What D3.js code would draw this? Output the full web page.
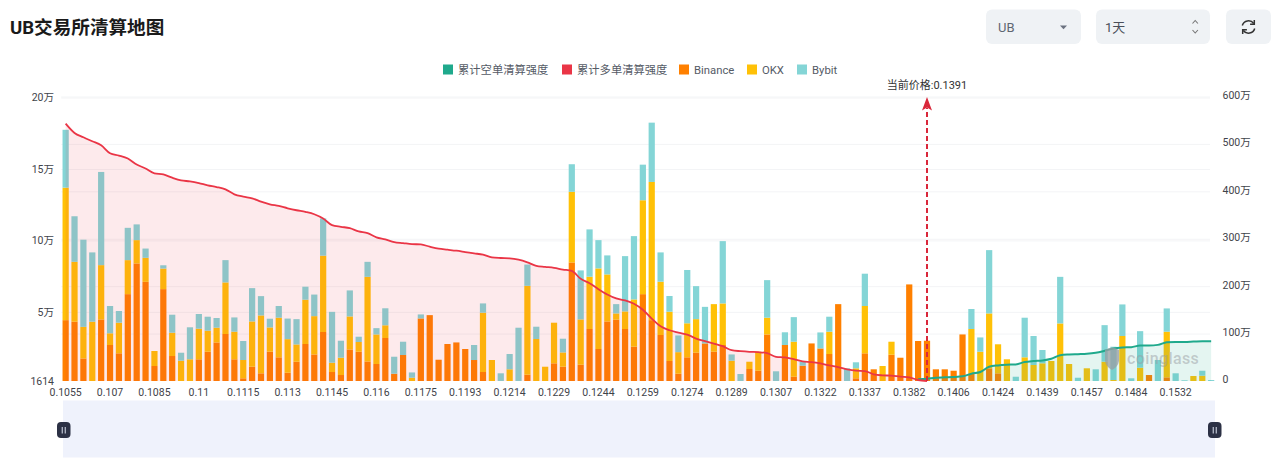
<!DOCTYPE html>
<html lang="zh">
<head>
<meta charset="utf-8">
<title>UB交易所清算地图</title>
<script src="https://cdn.jsdelivr.net/npm/d3@7/dist/d3.min.js"></script>
<style>
  html, body { margin: 0; padding: 0; background: #fff; overflow: hidden; }
  svg { display: block; }
  text { font-family: Roboto, "Noto Sans CJK SC", sans-serif; }
</style>
</head>
<body>
<svg id="chart" width="1280" height="467"></svg>
<script>
// Liquidation price levels labelled on the x axis (one label per five bars)
const priceLabels = ["0.1055","0.107","0.1085","0.11","0.1115","0.113","0.1145","0.116","0.1175","0.1193","0.1214","0.1229","0.1244","0.1259","0.1274","0.1289","0.1307","0.1322","0.1337","0.1382","0.1406","0.1424","0.1439","0.1457","0.1484","0.1532"];
const labelEvery = 5;

// Liquidation per exchange at each price level, in thousands of USD
const binance = [44.2,43.1,17.4,0,44.7,26.8,21.0,62.4,83.9,71.0,12.1,65.9,19.1,0,0,16.8,22.1,28.6,34.5,16.8,3.5,11.6,7.0,22.1,18.2,7.4,15.1,27.5,20.2,35.9,
  7.9,5.8,23.7,22.1,15.3,13.5,31.7,6.7,19.8,0,45.4,47.7,16.5,27.5,28.6,24.0,16.3,7.9,0,0,0,0,6.0,0,0,14.0,11.6,84.6,13.0,38.0,
  24.0,43.3,44.5,38.0,25.6,62.4,44.2,33.8,15.6,6.7,18.2,21.4,27.9,22.1,26.8,0,0,10.0,8.8,34.2,0,26.8,4.6,12.3,27.9,24.4,20.5,55.4,0,3.5,
  21.0,9.8,0,20.0,17.9,69.2,29.6,29.8,9.8,9.8,8.8,34.2,7.0,0,10.5,7.0,0,0,0,0,0,0,0,0,0,0,0,0,0,0,
  0,0,5.8,0,4.2,0,0,0,0,0];
const okx = [92.7,41.9,22.1,43.1,38.0,8.2,21.4,23.8,16.3,16.8,10.5,14.4,16.3,15.8,16.8,21.4,14.7,10.3,36.1,19.3,12.8,31.7,40.5,17.0,27.7,23.5,12.1,31.0,26.8,53.4,
  6.5,12.1,23.1,6.8,59.2,20.7,8.9,0,0,3.9,0,0,0,0,0,0,0,41.5,16.3,0,9.8,0,62.2,31.0,11.6,28.4,10.0,49.4,31.7,36.6,
  56.4,32.9,4.4,12.3,33.1,65.7,96.7,37.3,34.5,15.1,23.8,23.5,0,33.3,29.1,15.8,0,5.1,13.3,11.7,0,0,24.5,0,0,0,15.6,0,0,7.0,
  33.1,0,12.1,9.1,0,0,0,0,0,0,0,0,31.0,22.1,38.4,20.3,16.8,0,18.2,12.8,14.0,15.6,41.9,13.5,0,10.5,0,15.1,2.3,33.1,
  0,10.9,0,0,31.9,0,0,5.1,5.3,0];
const bybit = [40.5,31.9,61.0,48.5,65.2,19.1,8.2,22.6,11.0,6.5,0,2.3,12.6,5.6,22.4,10.3,9.8,6.8,15.6,10.0,13.3,23.3,13.5,6.1,8.2,14.4,17.7,9.1,15.1,26.1,
  35.6,11.9,18.2,3.7,10.5,4.4,11.9,11.9,9.3,3.7,2.8,0,0,0,0,0,10.5,6.5,0,7.0,10.7,38.9,14.9,8.6,0,0,9.6,19.3,34.3,33.1,
  19.8,13.3,6.5,38.7,44.3,24.9,41.5,20.5,11.0,11.7,37.3,23.1,25.6,0,43.6,4.4,6.5,0,0,26.3,8.4,8.9,17.2,2.8,0,11.2,10.5,0,10.5,4.2,
  22.6,0,0,0,0,0,0,0,0,0,0,0,14.0,10.0,44.3,0,0,4.6,27.7,20.3,9.3,0,32.6,0,3.9,0,9.8,25.6,23.3,22.1,
  3.5,25.6,0,16.3,16.3,7.0,2.1,0,3.5,2.3];

// Cumulative long liquidation intensity in units of 10k USD; it runs down to the current price
const cumulativeLong = [542.7,523.1,514.0,505.6,497.2,480.4,475.5,469.2,456.6,448.3,437.8,435.7,428.7,423.1,421.0,417.5,412.6,409.1,404.2,393.7,388.8,385.3,378.3,372.7,369.2,364.3,360.1,356.6,351.7,342.7,
  328.7,325.2,322.4,315.4,311.9,302.8,298.6,293.0,290.9,288.8,288.1,283.2,279.0,276.9,274.8,272.0,269.2,266.4,260.8,259.4,258.7,255.9,250.3,242.7,240.6,238.5,235.0,232.2,215.4,206.3,
  193.7,182.5,174.1,169.9,162.9,150.3,131.5,115.4,107.0,102.1,97.9,89.5,83.9,79.0,73.4,65.0,62.9,61.5,60.8,58.7,51.0,49.6,46.2,41.3,39.9,37.1,32.9,29.4,24.5,21.7,
  21.0,14.0,11.9,11.2,9.1,7.7,2.1,0];
// Cumulative short liquidation intensity, starting one level below the current price
const shortStart = 96;
const cumulativeShort = [3.5,4.9,7.0,7.7,8.4,9.8,15.4,18.9,30.1,32.9,34.3,35.0,39.9,42.0,43.4,46.9,54.5,55.9,56.6,57.3,59.4,63.6,68.5,70.6,71.3,74.8,74.8,76.2,81.8,82.5,82.5,83.2,83.9,83.9];

const currentPrice = "0.1391";
const currentLevel = 97;

const leftTicks = [1614, 50000, 100000, 150000, 200000];
const leftTickLabels = ["1614", "5万", "10万", "15万", "20万"];
const rightTicks = [0, 1e6, 2e6, 3e6, 4e6, 5e6, 6e6];
const rightTickLabels = ["0", "100万", "200万", "300万", "400万", "500万", "600万"];

const legendItems = [
  { name: "累计空单清算强度", color: "#1fa98c", x: 443 },
  { name: "累计多单清算强度", color: "#ea3546", x: 562 },
  { name: "Binance", color: "#ff8000", x: 679 },
  { name: "OKX", color: "#ffc107", x: 747 },
  { name: "Bybit", color: "#84d5d6", x: 797 }
];
const exchangeKeys = ["binance", "okx", "bybit"];
const exchangeColors = { binance: "#ff8000", okx: "#ffc107", bybit: "#84d5d6" };

const svg = d3.select("#chart");

// Page header and its controls
svg.append("text").attr("x", 10).attr("y", 34)
  .attr("font-size", 18.6).attr("font-weight", 700).attr("fill", "#1a1a1a")
  .text("UB交易所清算地图");

[[986, 95], [1096, 114], [1226, 45]].forEach(([x, w]) => {
  svg.append("rect").attr("x", x).attr("y", 9.5).attr("width", w).attr("height", 34.5)
    .attr("rx", 6).attr("fill", "#eff2f5");
});
svg.append("text").attr("x", 998).attr("y", 32).attr("font-size", 13).attr("fill", "#5f6672").text("UB");
svg.append("path").attr("d", "M1060 25.5h7l-3.5 3.8z").attr("fill", "#6b7280");
svg.append("text").attr("x", 1105).attr("y", 32).attr("font-size", 13).attr("fill", "#4a4f59").text("1天");
svg.append("path").attr("d", "M1192.5 23.5l2.7-3 2.7 3M1192.5 30l2.7 3 2.7-3")
  .attr("fill", "none").attr("stroke", "#777").attr("stroke-width", 1.1);
const refresh = svg.append("g").attr("transform", "translate(1248.5,27)")
  .attr("fill", "none").attr("stroke", "#333").attr("stroke-width", 1.5);
refresh.append("path").attr("d", "M-6.2 -1.5A6.4 6.4 0 0 1 5.2 -3.5");
refresh.append("path").attr("d", "M6.2 1.5A6.4 6.4 0 0 1 -5.2 3.5");
refresh.append("path").attr("d", "M5.8 -7V-2.8H1.6");
refresh.append("path").attr("d", "M-5.8 7V2.8H-1.6");

// Legend
const legend = svg.append("g");
legendItems.forEach(item => {
  legend.append("rect").attr("x", item.x).attr("y", 64.5).attr("width", 10).attr("height", 10).attr("fill", item.color);
  legend.append("text").attr("x", item.x + 15).attr("y", 73.5)
    .attr("font-size", 11.3).attr("fill", "#555b66").text(item.name);
});

// Scales
const levels = d3.range(binance.length);
const plot = { left: 61.2, right: 1215.6, bottom: 381 };
const x = d3.scaleBand().domain(levels).range([plot.left, plot.right]).paddingInner(0.3).paddingOuter(0.15);
const yLeft = d3.scaleLinear().domain([1614, 200000]).range([plot.bottom, 97.5]).clamp(true);
const yRight = d3.scaleLinear().domain([0, 6000000]).range([plot.bottom, 96.5]);

// Gridlines belong to both value axes, so they sit under every mark
const gridRight = 1210;
const gridLeft = svg.append("g").attr("transform", `translate(${plot.left},0)`)
  .call(d3.axisLeft(yLeft).tickValues(leftTicks.slice(1)).tickSize(plot.left - gridRight).tickFormat(""));
const gridRightAxis = svg.append("g").attr("transform", `translate(${plot.left},0)`)
  .call(d3.axisLeft(yRight).tickValues(rightTicks.slice(1)).tickSize(plot.left - gridRight).tickFormat(""));
[gridLeft, gridRightAxis].forEach(g => {
  g.select(".domain").remove();
  g.selectAll("line").attr("stroke", "#f3f4f6").attr("stroke-width", 1);
});

// Stacked exchange bars
const rows = levels.map(i => ({ level: i, binance: binance[i] * 1000, okx: okx[i] * 1000, bybit: bybit[i] * 1000 }));
const stacked = d3.stack().keys(exchangeKeys)(rows);
svg.append("g").selectAll("g").data(stacked).join("g")
  .attr("fill", s => exchangeColors[s.key])
  .selectAll("rect").data(s => s).join("rect")
  .attr("x", d => x(d.data.level))
  .attr("width", x.bandwidth())
  .attr("y", d => yLeft(d[1]))
  .attr("height", d => yLeft(d[0]) - yLeft(d[1]));

// Cumulative intensity areas and lines, on the right axis
const curve = d3.curveMonotoneX;
const xMid = i => x(i) + x.bandwidth() / 2;
const longPts = cumulativeLong.map((v, i) => [i, v * 10000]);
const shortPts = cumulativeShort.map((v, i) => [shortStart + i, v * 10000]);
const area = d3.area().x(d => xMid(d[0])).y0(yRight(0)).y1(d => yRight(d[1])).curve(curve);
const line = d3.line().x(d => xMid(d[0])).y(d => yRight(d[1])).curve(curve);

svg.append("path").attr("d", area(longPts)).attr("fill", "#ea3546").attr("fill-opacity", 0.1);
svg.append("path").attr("d", area(shortPts)).attr("fill", "#1fa98c").attr("fill-opacity", 0.12);
svg.append("path").attr("d", line(shortPts)).attr("fill", "none").attr("stroke", "#1fa98c").attr("stroke-width", 2);
svg.append("path").attr("d", line(longPts)).attr("fill", "none").attr("stroke", "#ea3546").attr("stroke-width", 1.8);

// Current price marker
const priceX = xMid(currentLevel);
svg.append("line").attr("x1", priceX).attr("x2", priceX).attr("y1", yRight(0)).attr("y2", 108)
  .attr("stroke", "#d9273a").attr("stroke-width", 2).attr("stroke-dasharray", "5 3");
svg.append("path")
  .attr("d", `M${priceX} 97L${priceX + 5} 110.5L${priceX} 107.5L${priceX - 5} 110.5Z`)
  .attr("fill", "#d9273a");
svg.append("text").attr("x", priceX).attr("y", 88.5).attr("text-anchor", "middle")
  .attr("font-size", 11).attr("fill", "#333")
  .text("当前价格:" + currentPrice);

// Axis labels
const styleAxis = g => {
  g.select(".domain").remove();
  g.selectAll("line").remove();
  g.selectAll("text").attr("fill", "#3f434a").attr("font-size", 10.5)
    .style("font-family", 'Roboto, "Noto Sans CJK SC", sans-serif');
};
svg.append("g").attr("transform", `translate(0,${plot.bottom})`)
  .call(d3.axisBottom(x)
    .tickValues(priceLabels.map((_, i) => i * labelEvery))
    .tickFormat(d => priceLabels[d / labelEvery])
    .tickSize(0).tickPadding(8))
  .call(styleAxis);
svg.append("g").attr("transform", "translate(54,0)")
  .call(d3.axisLeft(yLeft).tickValues(leftTicks)
    .tickFormat((d, i) => leftTickLabels[i]).tickSize(0).tickPadding(0))
  .call(styleAxis);
svg.append("g").attr("transform", "translate(1222.5,-1.5)")
  .call(d3.axisRight(yRight).tickValues(rightTicks)
    .tickFormat((d, i) => rightTickLabels[i]).tickSize(0).tickPadding(0))
  .call(styleAxis);

// Watermark
const mark = svg.append("g");
mark.append("path")
  .attr("d", "M1105 350Q1112 345 1119 350V361Q1118 367 1112 370Q1106 367 1105 361Z")
  .attr("fill", "#9a9ea3").attr("fill-opacity", 0.75);
mark.append("text").attr("x", 1127).attr("y", 364).attr("font-size", 16).attr("font-weight", 500)
  .attr("letter-spacing", 0.4).attr("fill", "#9a9ea3").attr("fill-opacity", 0.5).text("coinglass");

// Range slider underneath the chart
svg.append("rect").attr("x", 63).attr("y", 400.5).attr("width", 1152).attr("height", 57).attr("fill", "#eff2fc");
[57, 1208].forEach(hx => {
  const h = svg.append("g").attr("transform", `translate(${hx},422)`);
  h.append("rect").attr("width", 13.5).attr("height", 16).attr("rx", 4).attr("fill", "#2c3145");
  h.append("rect").attr("x", 4.6).attr("y", 5).attr("width", 1.4).attr("height", 6.5).attr("fill", "#aab0bf");
  h.append("rect").attr("x", 7.6).attr("y", 5).attr("width", 1.4).attr("height", 6.5).attr("fill", "#aab0bf");
});
</script>
</body>
</html>
